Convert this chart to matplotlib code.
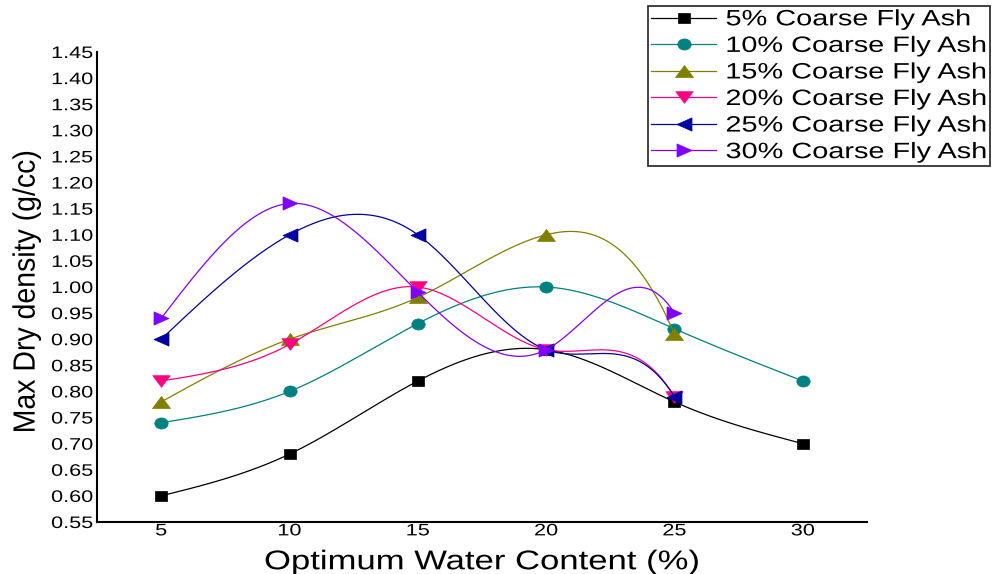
import numpy as np
import matplotlib
matplotlib.use('Agg')
import matplotlib.pyplot as plt
from matplotlib.markers import MarkerStyle
from matplotlib.patheffects import AbstractPathEffect
from matplotlib.transforms import Affine2D

plt.rcParams['font.family'] = ['Liberation Sans', 'DejaVu Sans']

water = [5, 10, 15, 20, 25, 30]
labels = ['5% Coarse Fly Ash', '10% Coarse Fly Ash', '15% Coarse Fly Ash',
          '20% Coarse Fly Ash', '25% Coarse Fly Ash', '30% Coarse Fly Ash']
ash5 = [0.60, 0.68, 0.82, 0.88, 0.78, 0.70]
ash10 = [0.74, 0.80, 0.93, 1.00, 0.92, 0.82]
ash15 = [0.78, 0.90, 0.98, 1.10, 0.91]
ash20 = [0.82, 0.89, 1.00, 0.88, 0.79]
ash25 = [0.90, 1.10, 1.10, 0.88, 0.79]
ash30 = [0.94, 1.16, 0.99, 0.88, 0.95]

colors = ['black', '#008080', '#808000', '#FF0080', '#0000A0', '#8000FF']
markers = ['s', 'o', '^', 'v', '<', '>']
# the original picture is squeezed vertically, so marks come out wider than tall
widen = [1.32, 1.2, 1.5, 1.5, 1.13, 1.13]
msizes = [8.9, 9.6, 13, 12.5, 10.8, 10.8]


class HStretch(AbstractPathEffect):
    # draws text horizontally widened, like the stretched source image
    def __init__(self, sx, anchor='center'):
        super().__init__()
        self.sx = sx
        self.anchor = anchor

    def draw_path(self, renderer, gc, tpath, affine, rgbFace=None):
        ext = tpath.get_extents(affine)
        if self.anchor == 'left':
            x0 = ext.x0
        elif self.anchor == 'right':
            x0 = ext.x1
        else:
            x0 = (ext.x0 + ext.x1) / 2
        t = affine + Affine2D().translate(-x0, 0).scale(self.sx, 1).translate(x0, 0)
        renderer.draw_path(gc, tpath, t, rgbFace)


def wide_marker(m, sx):
    st = MarkerStyle(m)
    p = st.get_path().transformed(st.get_transform())
    return p.transformed(Affine2D().scale(sx, 1))


def spline(x, y, n=300):
    # natural cubic spline, only used for the smooth connecting line
    x = np.asarray(x, float)
    y = np.asarray(y, float)
    k = len(x)
    h = np.diff(x)
    A = np.zeros((k, k))
    b = np.zeros(k)
    A[0, 0] = A[-1, -1] = 1
    for i in range(1, k - 1):
        A[i, i - 1] = h[i - 1]
        A[i, i] = 2 * (h[i - 1] + h[i])
        A[i, i + 1] = h[i]
        b[i] = 6 * ((y[i + 1] - y[i]) / h[i] - (y[i] - y[i - 1]) / h[i - 1])
    m = np.linalg.solve(A, b)
    xs = np.linspace(x[0], x[-1], n)
    idx = np.clip(np.searchsorted(x, xs) - 1, 0, k - 2)
    x0, x1 = x[idx], x[idx + 1]
    hh = x1 - x0
    t1 = x1 - xs
    t0 = xs - x0
    ys = (m[idx] * t1 ** 3 / (6 * hh) + m[idx + 1] * t0 ** 3 / (6 * hh)
          + (y[idx] / hh - m[idx] * hh / 6) * t1
          + (y[idx + 1] / hh - m[idx + 1] * hh / 6) * t0)
    return xs, ys


fig = plt.figure(figsize=(9.94, 5.74), dpi=100)
ax = fig.add_axes([0.0976, 0.0906, 0.7746, 0.8188])

series = [ash5, ash10, ash15, ash20, ash25, ash30]
handles = []
for vals, c, mk, sx, ms, lab in zip(series, colors, markers, widen, msizes, labels):
    xv = water[:len(vals)]
    # the source program treated the empty 30% cell as 0 when bending the curve,
    # so the line is shaped with it and then cut at the last real point
    yfull = list(vals) + [0.0] * (len(water) - len(vals))
    xs, ys = spline(water, yfull)
    keep = xs <= xv[-1]
    mpath = wide_marker(mk, sx)
    ax.plot(xs[keep], ys[keep], color=c, lw=0.9)
    ax.plot(xv, vals, ls='none', marker=mpath, color=c, ms=ms, mec=c, mew=0.5)
    h, = ax.plot([], [], color=c, lw=0.9, marker=mpath, ms=ms, mec=c, mew=0.5, label=lab)
    handles.append(h)

yt = np.round(np.arange(0.55, 1.451, 0.05), 2)
ax.set_xlim(2.5, 32.5)
ax.set_ylim(0.55, 1.45)
ax.set_xticks(water)
ax.set_yticks(yt)
ax.set_yticklabels(['%.2f' % v for v in yt])
ax.tick_params(length=0, labelsize=12)
ax.tick_params(axis='x', pad=1)
ax.tick_params(axis='y', pad=3)
ax.spines['top'].set_visible(False)
ax.spines['right'].set_visible(False)
ax.spines['left'].set_linewidth(1.5)
ax.spines['bottom'].set_linewidth(1.5)
for t in ax.get_xticklabels():
    t.set_path_effects([HStretch(1.3, 'center')])
for t in ax.get_yticklabels():
    t.set_path_effects([HStretch(1.3, 'right')])

xl = ax.set_xlabel('Optimum Water Content (%)', fontsize=19.5)
ax.xaxis.set_label_coords(0.5, -0.058)
xl.set_path_effects([HStretch(1.28, 'center')])
yl = ax.set_ylabel('Max Dry density (g/cc)', fontsize=20.5)
ax.yaxis.set_label_coords(-0.074, 0.49)
yl.set_path_effects([HStretch(1.08, 'center')])

leg = fig.legend(handles=handles, loc='upper left', mode='expand',
                 bbox_to_anchor=(648 / 994, 0, 342 / 994, 1 - 6 / 574),
                 bbox_transform=fig.transFigure,
                 fontsize=16, frameon=True, fancybox=False, edgecolor='black',
                 handlelength=2.9, handletextpad=0.45, labelspacing=0.25,
                 borderpad=0.15, borderaxespad=0)
leg.get_frame().set_linewidth(1.3)
for t in leg.get_texts():
    t.set_path_effects([HStretch(1.3, 'left')])

fig.savefig('out.png', dpi=100)
